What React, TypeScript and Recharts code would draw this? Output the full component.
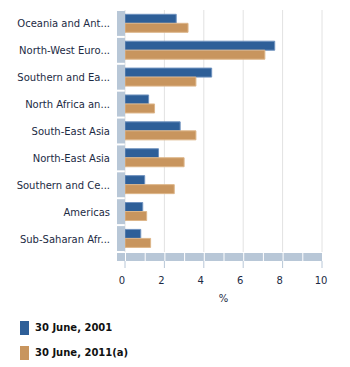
import React from "react";
import { BarChart, Bar, XAxis, YAxis, CartesianGrid } from "recharts";

// Region of birth labels (truncated as in the source)
const regions = [
  "Oceania and Ant...",
  "North-West Euro...",
  "Southern and Ea...",
  "North Africa an...",
  "South-East Asia",
  "North-East Asia",
  "Southern and Ce...",
  "Americas",
  "Sub-Saharan Afr...",
];
const june2001 = [2.6, 7.6, 4.4, 1.2, 2.8, 1.7, 1.0, 0.9, 0.8];
const june2011 = [3.2, 7.1, 3.6, 1.5, 3.6, 3.0, 2.5, 1.1, 1.3];
const xTicks = [0, 2, 4, 6, 8, 10];
const seriesNames = ["30 June, 2001", "30 June, 2011(a)"];

const data = regions.map((name, i) => ({
  name,
  y2001: june2001[i],
  y2011: june2011[i],
}));

const W = 350;
const H = 305;
const TOP = 10;
const LEFT = 125;
const RIGHT = 28;
const XAXIS_H = 53;
const PLOT_BOTTOM = H - XAXIS_H;
const BAND = (PLOT_BOTTOM - TOP) / regions.length;
const UNIT = (W - RIGHT - LEFT) / 10;
const WALL = "#B8C7D7";
const TEXT = "#1C2B44";
const FONT = "'DejaVu Sans', Verdana, sans-serif";
const BLUE = "#2E5F98";
const ORANGE = "#C8955E";

const CategoryTick = (props: any) => {
  const { y, payload } = props;
  return (
    <g>
      <rect x={LEFT - 8} y={y - BAND / 2 + 1} width={8} height={BAND - 2} fill={WALL} />
      <text x={110} y={y} dy={4} textAnchor="end" fontSize={10} fill={TEXT} fontFamily={FONT}>
        {payload.value}
      </text>
    </g>
  );
};

const ValueTick = (props: any) => {
  const { x, payload } = props;
  const v = payload.value;
  return (
    <g>
      {v === 0 && (
        <rect x={LEFT - 8} y={PLOT_BOTTOM + 1} width={8} height={8} fill={WALL} />
      )}
      {v < 10 && (
        <>
          <rect x={x + 1} y={PLOT_BOTTOM + 1} width={UNIT - 1} height={8} fill={WALL} />
          <rect x={x + UNIT + 1} y={PLOT_BOTTOM + 1} width={UNIT - 1} height={8} fill={WALL} />
        </>
      )}
      <line x1={x} x2={x} y1={PLOT_BOTTOM + 9} y2={PLOT_BOTTOM + 16} stroke={WALL} />
      <text x={x} dx={v < 10 ? -3 : -1} y={PLOT_BOTTOM + 28} dy={4} textAnchor="middle" fontSize={10} fill={TEXT} fontFamily={FONT}>
        {v}
      </text>
    </g>
  );
};

export default function App() {
  const colors = [BLUE, ORANGE];
  return (
    <div style={{ width: W, background: "#fff" }}>
      <style>{"body{margin:0}"}</style>
      <BarChart
        width={W}
        height={H}
        data={data}
        layout="vertical"
        margin={{ top: TOP, right: RIGHT, left: 0, bottom: 0 }}
        barCategoryGap="16%"
        barGap={0}
      >
        <CartesianGrid horizontal={false} stroke="#E2E2E2" />
        <XAxis
          type="number"
          domain={[0, 10]}
          ticks={xTicks}
          height={XAXIS_H}
          axisLine={false}
          tickLine={false}
          tick={<ValueTick />}
          label={{ value: "%", position: "insideBottom", offset: 3, fontSize: 10, fill: TEXT, fontFamily: FONT }}
        />
        <YAxis
          type="category"
          dataKey="name"
          width={LEFT}
          axisLine={false}
          tickLine={false}
          interval={0}
          tick={<CategoryTick />}
        />
        <Bar dataKey="y2001" name={seriesNames[0]} fill={BLUE} stroke="#6F92BE" strokeWidth={1} isAnimationActive={false} />
        <Bar dataKey="y2011" name={seriesNames[1]} fill={ORANGE} stroke="#DDB68A" strokeWidth={1} isAnimationActive={false} />
      </BarChart>
      <div style={{ paddingTop: 10, fontFamily: FONT, fontSize: 10, fontWeight: "bold", color: "#111" }}>
        {seriesNames.map((s, i) => (
          <div key={s} style={{ display: "flex", alignItems: "center", height: 25 }}>
            <span style={{ display: "inline-block", width: 9, height: 14, background: colors[i], marginLeft: 20, marginRight: 6 }} />
            {s}
          </div>
        ))}
      </div>
    </div>
  );
}
